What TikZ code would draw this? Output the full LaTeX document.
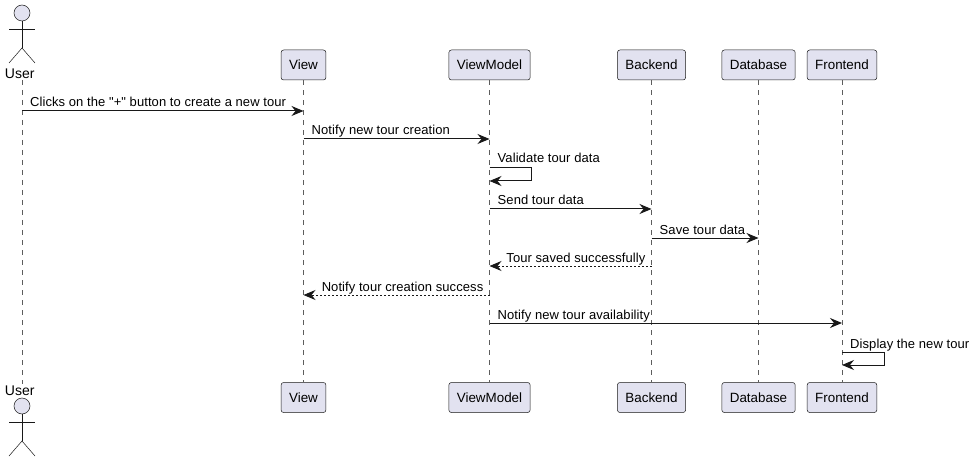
\documentclass[tikz,border=0pt]{standalone}
\usepackage{fontspec}
\setmainfont{Liberation Sans}
\newfontfamily\msgfont[LetterSpace=0.6]{Liberation Sans}
\usepackage{tikz}
\usetikzlibrary{arrows.meta,calc}
\definecolor{partfill}{HTML}{E2E2F0}
\definecolor{partline}{HTML}{181818}
\tikzset{
part/.style = {rectangle, rounded corners=2.5pt, draw=partline, fill=partfill, line width=0.5pt, font=\fontsize{13.4}{15}\selectfont, inner xsep=8pt, inner ysep=0pt, minimum height=30pt, text height=11pt, text depth=2pt},
head/.style = {circle, draw=partline, fill=partfill, line width=0.5pt, minimum size=16pt, inner sep=0pt},
limb/.style = {draw=partline, line width=0.5pt},
actorname/.style = {inner sep=0pt, font=\fontsize{14}{16}\selectfont, text height=10pt, text depth=0pt},
life/.style = {draw=partline!70, line width=0.5pt, dash pattern=on 5pt off 5pt},
msg/.style = {draw=partline, line width=1pt, -{Stealth[length=12pt,width=10pt,inset=4pt]}},
back/.style = {msg, dash pattern=on 2pt off 2pt},
msgtext/.style = {inner sep=0pt, font=\msgfont\fontsize{13}{15}\selectfont, text height=9pt, text depth=3pt}
}
\begin{document}
\begin{tikzpicture}[x=1pt,y=-1pt]
	\useasboundingbox (0,0) rectangle (973,462);
	% participants
	\coordinate (user) at (22,80);
	\coordinate (userb) at (22,384);
	\node [part] (view) at (303.5,65) {View};
	\node [part] (viewmodel) at (489.5,65) {ViewModel};
	\node [part] (backend) at (651.5,65) {Backend};
	\node [part] (database) at (758.5,65) {Database};
	\node [part] (frontend) at (842,65) {Frontend};
	\node [part] (viewb) at (303.5,397.5) {View};
	\node [part] (viewmodelb) at (489.5,397.5) {ViewModel};
	\node [part] (backendb) at (651.5,397.5) {Backend};
	\node [part] (databaseb) at (758.5,397.5) {Database};
	\node [part] (frontendb) at (842,397.5) {Frontend};
	% lifelines
	\draw [life] (user) -- (userb);
	\draw [life] (view) -- (viewb);
	\draw [life] (viewmodel) -- (viewmodelb);
	\draw [life] (backend) -- (backendb);
	\draw [life] (database) -- (databaseb);
	\draw [life] (frontend) -- (frontendb);
	% actor, top
	\node [head] (userhead) at (22,13) {};
	\coordinate (userhip) at (22,48);
	\draw [limb] (userhead) -- (userhip);
	\draw [limb] (9,29) -- (35,29);
	\draw [limb] (9,63) -- (userhip) -- (35,63);
	\node [actorname] (username) at (19.7,74) {User};
	% actor, bottom
	\node [actorname] (usernameb) at (19.7,390) {User};
	\node [head] (userheadb) at (22,406) {};
	\coordinate (userhipb) at (22,441);
	\draw [limb] (userheadb) -- (userhipb);
	\draw [limb] (9,422) -- (35,422);
	\draw [limb] (9,456) -- (userhipb) -- (35,456);
	% messages
	\coordinate (m1) at (0,111);
	\coordinate (m2) at (0,139);
	\coordinate (m3) at (0,168);
	\coordinate (m3r) at (0,181);
	\coordinate (m4) at (0,209);
	\coordinate (m5) at (0,238);
	\coordinate (m6) at (0,266);
	\coordinate (m7) at (0,295);
	\coordinate (m8) at (0,323);
	\coordinate (m9) at (0,352);
	\coordinate (m9r) at (0,365);
	\draw [msg] (user |- m1) -- (view |- m1);
	\node [msgtext, anchor=west] (t1) at ($(user |- m1)+(8,-7)$) {Clicks on the "+" button to create a new tour};
	\draw [msg] (view |- m2) -- (viewmodel |- m2);
	\node [msgtext, anchor=west] (t2) at ($(view |- m2)+(8,-7)$) {Notify new tour creation};
	\draw [msg] (viewmodel |- m3) -- ++(42,0) |- (viewmodel |- m3r);
	\node [msgtext, anchor=west] (t3) at ($(viewmodel |- m3)+(8,-8)$) {Validate tour data};
	\draw [msg] (viewmodel |- m4) -- (backend |- m4);
	\node [msgtext, anchor=west] (t4) at ($(viewmodel |- m4)+(8,-7)$) {Send tour data};
	\draw [msg] (backend |- m5) -- (database |- m5);
	\node [msgtext, anchor=west] (t5) at ($(backend |- m5)+(8,-7)$) {Save tour data};
	\draw [back] (backend |- m6) -- (viewmodel |- m6);
	\node [msgtext, anchor=east] (t6) at ($(backend |- m6)+(-6,-7)$) {Tour saved successfully};
	\draw [back] (viewmodel |- m7) -- (view |- m7);
	\node [msgtext, anchor=east] (t7) at ($(viewmodel |- m7)+(-6,-7)$) {Notify tour creation success};
	\draw [msg] (viewmodel |- m8) -- (frontend |- m8);
	\node [msgtext, anchor=west] (t8) at ($(viewmodel |- m8)+(8,-7)$) {Notify new tour availability};
	\draw [msg] (frontend |- m9) -- ++(42,0) |- (frontend |- m9r);
	\node [msgtext, anchor=west] (t9) at ($(frontend |- m9)+(8,-7)$) {Display the new tour};
\end{tikzpicture}
\end{document}
